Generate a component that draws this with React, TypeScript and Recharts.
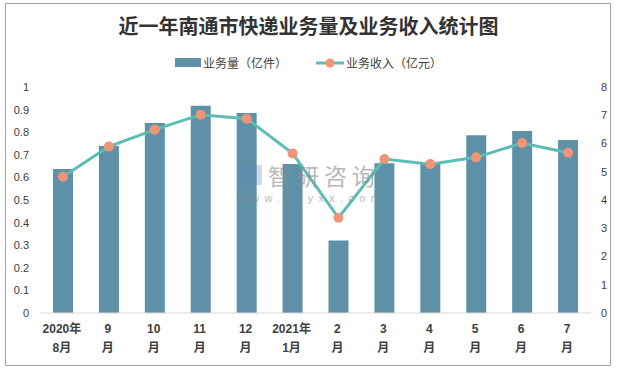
import { ComposedChart, Bar, Line, XAxis, YAxis, Legend } from "recharts";

// 月份（两行显示）
const months = [
  "2020年\n8月",
  "9\n月",
  "10\n月",
  "11\n月",
  "12\n月",
  "2021年\n1月",
  "2\n月",
  "3\n月",
  "4\n月",
  "5\n月",
  "6\n月",
  "7\n月",
];
// 业务量（亿件）
const volume = [0.637, 0.739, 0.841, 0.917, 0.885, 0.659, 0.321, 0.663, 0.662, 0.787, 0.805, 0.765];
// 业务收入（亿元）
const revenue = [4.82, 5.89, 6.49, 7.02, 6.88, 5.65, 3.37, 5.45, 5.27, 5.51, 6.02, 5.67];

const leftTicks = [0, 0.1, 0.2, 0.3, 0.4, 0.5, 0.6, 0.7, 0.8, 0.9, 1];
const rightTicks = [0, 1, 2, 3, 4, 5, 6, 7, 8];

const data = months.map((m, i) => ({ month: m, volume: volume[i], revenue: revenue[i] }));

const BAR = "#5E91A8";
const LINE = "#5BBDB3";
const DOT = "#EE9478";
const FONT = "'Liberation Sans', 'Noto Sans CJK SC', sans-serif";

const MonthTick = (props: any) => {
  const { x, y, payload } = props;
  const lines = String(payload.value).split("\n");
  return (
    <text x={x - 1} y={y} textAnchor="middle" fill="#404040" fontSize={12} fontWeight="bold" fontFamily={FONT}>
      {lines.map((l, i) => (
        <tspan key={i} x={x - 1} dy={i === 0 ? 12 : 19}>
          {l}
        </tspan>
      ))}
    </text>
  );
};

const LegendContent = () => (
  <div style={{ display: "flex", alignItems: "center", fontSize: 12, color: "#404040", fontFamily: FONT }}>
    <span style={{ display: "inline-block", width: 26, height: 9, background: BAR, marginRight: 2 }} />
    <span>业务量（亿件）</span>
    <svg width={28} height={10} style={{ marginLeft: 29, marginRight: 2 }}>
      <line x1={0} y1={5} x2={28} y2={5} stroke={LINE} strokeWidth={3} />
      <circle cx={14} cy={5} r={4.5} fill={DOT} />
    </svg>
    <span>业务收入（亿元）</span>
  </div>
);

export default function App() {
  return (
    <div style={{ position: "fixed", left: 0, top: 0, width: 617, height: 369, background: "#fff" }}>
      <div
        style={{
          position: "absolute",
          left: 5,
          top: 3,
          width: 604,
          height: 361,
          border: "1px solid #A6A6A6",
        }}
      />
      <div
        style={{
          position: "absolute",
          left: 0,
          width: 617,
          top: 11,
          textAlign: "center",
          fontSize: 20,
          fontWeight: "bold",
          color: "#333",
          fontFamily: "'Noto Sans CJK SC', sans-serif",
        }}
      >
        近一年南通市快递业务量及业务收入统计图
      </div>
      <ComposedChart
        width={617}
        height={369}
        data={data}
        margin={{ top: 87, right: 0, left: 0, bottom: 0 }}
        barCategoryGap="56%"
        style={{ position: "absolute", left: 0, top: 0 }}
      >
        <XAxis
          dataKey="month"
          axisLine={{ stroke: "#D9D9D9" }}
          tickLine={false}
          height={56}
          tick={<MonthTick />}
          interval={0}
        />
        <YAxis
          yAxisId="left"
          width={40}
          domain={[0, 1]}
          ticks={leftTicks}
          axisLine={false}
          tickLine={false}
          tickSize={0}
          tickMargin={11}
          tick={{ fill: "#404040", fontSize: 11, fontFamily: FONT }}
        />
        <YAxis
          yAxisId="right"
          orientation="right"
          width={26}
          domain={[0, 8]}
          ticks={rightTicks}
          axisLine={false}
          tickLine={false}
          tickSize={0}
          tickMargin={10}
          tick={{ fill: "#404040", fontSize: 11, fontFamily: FONT }}
        />
        <Legend
          verticalAlign="middle"
          align="center"
          layout="horizontal"
          wrapperStyle={{ top: 54, left: 0, width: 617, display: "flex", justifyContent: "center" }}
          content={<LegendContent />}
        />
        <Bar yAxisId="left" dataKey="volume" fill={BAR} barSize={20} isAnimationActive={false} />
        <Line
          yAxisId="right"
          dataKey="revenue"
          stroke={LINE}
          strokeWidth={3}
          dot={{ r: 5, fill: DOT, stroke: "none" }}
          activeDot={false}
          isAnimationActive={false}
        />
      </ComposedChart>
      {/* 水印 */}
      <div style={{ position: "absolute", left: 238, top: 165, width: 24, height: 20, opacity: 0.3, background: "#5B86B0", pointerEvents: "none" }} />
      <div
        style={{
          position: "absolute",
          left: 268,
          top: 161,
          fontSize: 23,
          lineHeight: "28px",
          letterSpacing: 5,
          color: "#8C8C8C",
          opacity: 0.6,
          fontFamily: "'Noto Sans CJK SC', sans-serif",
          pointerEvents: "none",
        }}
      >
        智研咨询
      </div>
      <div
        style={{
          position: "absolute",
          left: 238,
          top: 192,
          fontSize: 11,
          lineHeight: "12px",
          letterSpacing: 5.3,
          color: "#8C8C8C",
          opacity: 0.6,
          fontFamily: "'Liberation Sans', sans-serif",
          pointerEvents: "none",
        }}
      >
        www.chyxx.com
      </div>
    </div>
  );
}
